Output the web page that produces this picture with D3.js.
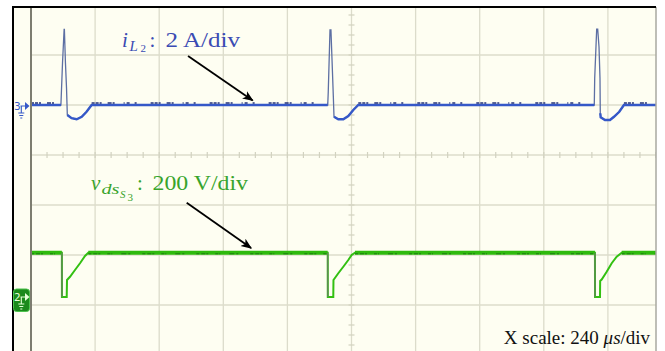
<!DOCTYPE html>
<html>
<head>
<meta charset="utf-8">
<script src="https://cdn.jsdelivr.net/npm/d3@7"></script>
<style>
  html, body { margin: 0; padding: 0; background: #fff; }
  svg { display: block; }
</style>
</head>
<body>
<svg id="chart" width="665" height="351"></svg>
<script>
// ---------------- data ----------------
// time in µs, inductor current in A (channel 3, 2 A/div)
const iL2 = [
  [0, 0], [112, 0], [118, 1.68], [124, 3.02], [125, 3.02], [129, 1.68], [133, 0.68],
  [136, -0.4], [152, -0.53], [171, -0.57], [190, -0.47], [208, -0.27], [227, 0],
  [1111, 0], [1113, 0.53], [1119.5, 3.0], [1123, 3.0], [1128, 1.53], [1132, 0.33],
  [1134.5, -0.47], [1150.6, -0.57], [1169.3, -0.57], [1188, -0.44], [1206.7, -0.2], [1225.4, 0],
  [2109, 0], [2110.6, 1.07], [2118, 3.03], [2121.8, 3.03], [2126.7, 2.33], [2130.4, 1.07],
  [2131.5, -0.33], [2133, -0.49], [2149, -0.6], [2167.8, -0.6], [2182.8, -0.47], [2202.6, -0.27],
  [2220, 0], [2400, 0]
];
// time in µs, switch voltage in V (channel 2, 200 V/div)
const vdsS3 = [
  [0, 177], [115.6, 177], [115.8, 0], [133.7, 0], [134.8, 68], [146, 81], [164.7, 108],
  [183.5, 135], [202.2, 164], [214.5, 177],
  [1110.9, 177], [1111.2, 0], [1131.8, 0], [1132.5, 68], [1150.6, 95], [1169.3, 121],
  [1188, 148], [1200.7, 168], [1213, 177],
  [2111.5, 177], [2111.8, 0], [2130.4, 0], [2131, 64], [2136.7, 70], [2155.4, 101],
  [2174.2, 135], [2192.9, 161], [2211.6, 177], [2400, 177]
];
const hDivs = d3.range(0, 11);        // 10 horizontal divisions
const vDivs = d3.range(-4, 5);        // 8 vertical divisions
const usPerDiv = 240;

// ---------------- scales ----------------
const svg = d3.select("#chart");
const x = d3.scaleLinear().domain([0, 10 * usPerDiv]).range([31, 672]);
const yDiv = d3.scaleLinear().domain([-4, 4]).range([355, -45]);
const ch3 = { offset: 1.0, perDiv: 2 };     // ground marker position / scale
const ch2 = { offset: -2.84, perDiv: 200 };
const yCh = ch => v => yDiv(ch.offset + v / ch.perDiv);
const yBlue = yCh(ch3), yGreen = yCh(ch2);

const scrL = 31, scrR = 656, scrT = 7, scrB = 351;

// ---------------- frame ----------------
svg.append("rect").attr("x", 13).attr("y", scrT)
  .attr("width", scrR - 13).attr("height", scrB - scrT)
  .attr("fill", "#fefef2");

svg.append("clipPath").attr("id", "screen")
  .append("rect").attr("x", scrL).attr("y", scrT)
  .attr("width", scrR - scrL).attr("height", scrB - scrT);

const scr = svg.append("g").attr("clip-path", "url(#screen)");

// graticule
scr.selectAll(".vgrid").data(hDivs).join("line")
  .attr("x1", d => x(d * usPerDiv)).attr("x2", d => x(d * usPerDiv))
  .attr("y1", yDiv(4)).attr("y2", yDiv(-4))
  .attr("stroke", "#dcdccb").attr("stroke-width", 1.3);
scr.selectAll(".hgrid").data(vDivs).join("line")
  .attr("y1", d => yDiv(d)).attr("y2", d => yDiv(d))
  .attr("x1", x(0)).attr("x2", x(10 * usPerDiv))
  .attr("stroke", "#dcdccb").attr("stroke-width", 1.3);

// minor ticks on the centre axes
scr.selectAll(".htick").data(d3.range(0, 10 * usPerDiv + 1, usPerDiv / 4)).join("line")
  .attr("x1", d => x(d)).attr("x2", d => x(d))
  .attr("y1", yDiv(0) - 3).attr("y2", yDiv(0) + 3)
  .attr("stroke", "#d2d2c0").attr("stroke-width", 1.2);
scr.selectAll(".vtick").data(d3.range(-20, 21).map(d => d / 5)).join("line")
  .attr("y1", d => yDiv(d)).attr("y2", d => yDiv(d))
  .attr("x1", x(5 * usPerDiv) - 3).attr("x2", x(5 * usPerDiv) + 3)
  .attr("stroke", "#d2d2c0").attr("stroke-width", 1.2);

// ---------------- traces ----------------
const lineB = d3.line().x(d => x(d[0])).y(d => yBlue(d[1]));
const lineG = d3.line().x(d => x(d[0])).y(d => yGreen(d[1]));

// channel 2 (green)
scr.append("path").datum(vdsS3).attr("d", lineG)
  .attr("fill", "none").attr("stroke", "#33c012").attr("stroke-width", 2);
scr.append("path").datum(vdsS3)
  .attr("d", d3.line().defined(d => d[1] > 170).x(d => x(d[0])).y(d => yGreen(d[1])))
  .attr("fill", "none").attr("stroke", "#2fba0e").attr("stroke-width", 4);
scr.append("path").datum(vdsS3)
  .attr("d", d3.line().defined(d => d[1] > 170).x(d => x(d[0])).y(d => yGreen(d[1]) + 1))
  .attr("fill", "none").attr("stroke", "#1f7d12").attr("stroke-width", 1.2)
  .attr("stroke-dasharray", "3,2,4,1,2,7,3,1,1,9,5,2,2,12");
// falling edges drawn darker
const drops = d3.pairs(vdsS3).filter(([a, b]) => a[1] - b[1] > 100);
scr.selectAll(".drop").data(drops).join("line")
  .attr("x1", d => x(d[0][0])).attr("x2", d => x(d[1][0]))
  .attr("y1", d => yGreen(d[0][1])).attr("y2", d => yGreen(d[1][1]))
  .attr("stroke", "#5f8a55").attr("stroke-width", 1.4);

// channel 3 (blue)
scr.append("path").datum(iL2).attr("d", lineB)
  .attr("fill", "none").attr("stroke", "#5d6fa3").attr("stroke-width", 1.3);
scr.append("path").datum(iL2)
  .attr("d", d3.line().defined(d => d[1] <= 0.05).x(d => x(d[0])).y(d => yBlue(d[1])))
  .attr("fill", "none").attr("stroke", "#3558c8").attr("stroke-width", 2.4);
scr.append("path").datum(iL2)
  .attr("d", d3.line().defined(d => d[1] === 0).x(d => x(d[0])).y(d => yBlue(d[1]) - 2))
  .attr("fill", "none").attr("stroke", "#24337a").attr("stroke-width", 1.5)
  .attr("stroke-dasharray", "3,1,3,1,2,6,4,1,2,9,1,2,3,5,2,14");

// screen edges
svg.append("line").attr("x1", scrL).attr("x2", scrL).attr("y1", scrT).attr("y2", scrB)
  .attr("stroke", "#7d7d70").attr("stroke-width", 2);
svg.append("line").attr("x1", scrR).attr("x2", scrR).attr("y1", scrT).attr("y2", scrB)
  .attr("stroke", "#a8a8a0").attr("stroke-width", 1.5);
svg.append("path").attr("d", `M13,${scrB}V${scrT}H${scrR}`)
  .attr("fill", "none").attr("stroke", "#000").attr("stroke-width", 2);

// ---------------- ground markers ----------------
function groundMarker(yG, label, color, filled) {
  const g = svg.append("g");
  if (filled) {
    g.append("rect").attr("x", 13.5).attr("y", yG - 8).attr("width", 16).attr("height", 22.5)
      .attr("rx", 3).attr("fill", "#1b8a1b").attr("stroke", "#4cc34c").attr("stroke-width", 1);
  }
  const c = filled ? "#e6ffd8" : color;
  g.append("text").attr("x", 14).attr("y", yG + 3.5).text(label)
    .attr("font-family", "DejaVu Sans").attr("font-size", 10.5).attr("fill", c);
  g.append("path")
    .attr("d", `M20.5,${yG}H25M21.3,${yG}V${yG + 7}M18.3,${yG + 7}H24.3M19.3,${yG + 9.5}H23.3M20.3,${yG + 12}H22.3`)
    .attr("fill", "none").attr("stroke", c).attr("stroke-width", 1.1);
  g.append("path").attr("d", `M25,${yG - 4}L29.5,${yG}L25,${yG + 4}Z`).attr("fill", c);
}
groundMarker(yBlue(0) + 1, "3", "#3558c8", false);
groundMarker(yGreen(0), "2", "#2fba0e", true);

// ---------------- annotations ----------------
const defs = svg.append("defs");
defs.append("marker").attr("id", "head").attr("viewBox", "0 0 10 10")
  .attr("refX", 9).attr("refY", 5).attr("markerWidth", 11).attr("markerHeight", 11)
  .attr("markerUnits", "userSpaceOnUse").attr("orient", "auto")
  .append("path").attr("d", "M0,1L10,5L0,9L2.5,5Z").attr("fill", "#000");

function arrow(t0, d0, t1, d1) {
  svg.append("line")
    .attr("x1", x(t0)).attr("y1", yDiv(d0)).attr("x2", x(t1)).attr("y2", yDiv(d1))
    .attr("stroke", "#000").attr("stroke-width", 1.8).attr("marker-end", "url(#head)");
}
arrow(588, 1.98, 830, 1.09);
arrow(583, -0.954, 824, -1.86);

const serif = "Liberation Serif, Times New Roman, serif";
function part(gx, gy, dx, dy, txt, size, italic, color, len) {
  const t = svg.append("text").attr("x", gx + dx).attr("y", gy + dy).text(txt)
    .attr("font-family", serif).attr("font-size", size).attr("fill", color)
    .attr("font-style", italic ? "italic" : "normal");
  if (len) t.attr("textLength", len).attr("lengthAdjust", "spacingAndGlyphs");
  return t;
}

// i_{L_2}: 2 A/div
{
  const bx = x(340.7), by = yDiv(2.17), c = "#3a4bb3";
  part(bx, by, 0, 0, "i", 21, true, c);
  part(bx, by, 7.5, 4, "L", 15, true, c);
  part(bx, by, 18.5, 5.5, "2", 11, false, c);
  part(bx, by, 27.5, 0, ":", 21, false, c);
  part(bx, by, 43.5, 0, "2 A/div", 21, false, c, 74.5);
}
// v_{ds_{S_3}}: 200 V/div
{
  const bx = x(224.6), by = yDiv(-0.7), c = "#38a42c";
  part(bx, by, 0, 0, "v", 21, true, c);
  part(bx, by, 10.5, 3.5, "ds", 15, true, c, 18);
  part(bx, by, 29, 8, "S", 11, true, c);
  part(bx, by, 36.5, 10.5, "3", 11, false, c);
  part(bx, by, 46, 0, ":", 21, false, c);
  part(bx, by, 61.5, 0, "200 V/div", 21, false, c, 95.5);
}
// X scale
{
  const t = svg.append("text").attr("x", x(2318)).attr("y", yDiv(-3.78))
    .attr("text-anchor", "end").attr("font-family", serif).attr("font-size", 19)
    .attr("fill", "#111");
  t.append("tspan").text("X scale: 240 ");
  t.append("tspan").attr("font-style", "italic").text("μs");
  t.append("tspan").text("/div");
}
</script>
</body>
</html>
